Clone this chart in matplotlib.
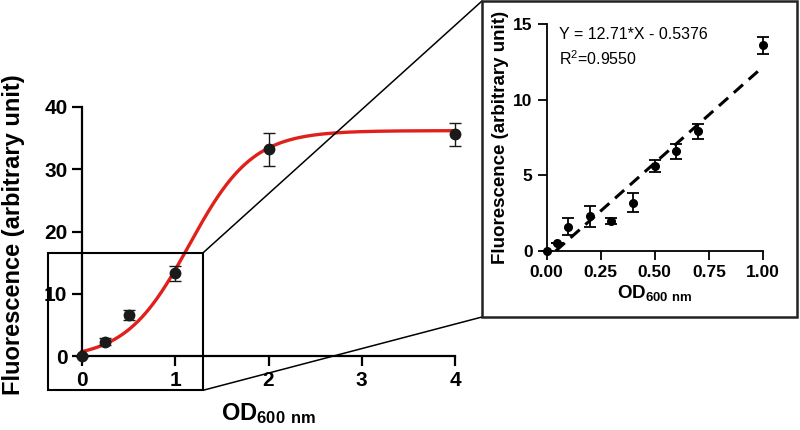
import numpy as np
import matplotlib
matplotlib.use('Agg')
from matplotlib import pyplot as plt
from matplotlib.patches import Rectangle, ConnectionPatch

plt.rcParams['font.family'] = ['Liberation Sans', 'DejaVu Sans']
plt.rcParams['font.weight'] = 'bold'
plt.rcParams['mathtext.default'] = 'regular'

# main panel data (OD600 vs fluorescence)
od_main = [0, 0.25, 0.5, 1, 2, 4]
fl_main = [0, 2.3, 6.6, 13.3, 33.2, 35.6]
err_main = [0.1, 0.6, 0.8, 1.2, 2.6, 1.9]

# sigmoid (Boltzmann) fit parameters
fit_bottom = -0.5
fit_top = 36.2
fit_v50 = 1.15
fit_slope = 0.34

# inset data (linear range)
od_inset = [0, 0.05, 0.1, 0.2, 0.3, 0.4, 0.5, 0.6, 0.7, 1.0]
fl_inset = [0, 0.55, 1.6, 2.3, 2.0, 3.2, 5.6, 6.6, 7.9, 13.6]
err_inset = [0.0, 0.0, 0.55, 0.7, 0.2, 0.6, 0.4, 0.5, 0.5, 0.55]
slope = 12.71
intercept = -0.5376
r2 = 0.9550

fig = plt.figure(figsize=(8, 4.3), dpi=100)

# ---- main plot ----
ax = fig.add_axes([82 / 800, 74 / 430, 373 / 800, 249 / 430])
xs = np.linspace(0, 4, 400)
ys = fit_bottom + (fit_top - fit_bottom) / (1 + np.exp((fit_v50 - xs) / fit_slope))
ax.plot(xs, ys, color='#e0201b', lw=2.4, zorder=2, clip_on=False)
ax.errorbar(od_main, fl_main, yerr=err_main, fmt='o', color='#1a1a1a', ms=7.5,
            elinewidth=1, capsize=4, capthick=1, zorder=3, clip_on=False)
ax.set_xlim(0, 4)
ax.set_ylim(0, 40)
ax.set_xticks([0, 1, 2, 3, 4])
ax.set_yticks([0, 10, 20, 30, 40])
for s in ['top', 'right']:
    ax.spines[s].set_visible(False)
for s in ['left', 'bottom']:
    ax.spines[s].set_linewidth(1.6)
ax.tick_params(width=1.6, length=7, labelsize=15)
ax.set_xlabel('OD$_{600\\ nm}$', fontsize=17, fontweight='bold', labelpad=8)
ax.set_ylabel('Fluorescence (arbitrary unit)', fontsize=17, fontweight='bold')
ax.yaxis.set_label_coords(-0.152, 0.486)

# zoom box on main plot
box_x0, box_x1 = -0.36, 1.30
box_y0, box_y1 = -5.5, 16.6
ax.add_patch(Rectangle((box_x0, box_y0), box_x1 - box_x0, box_y1 - box_y0,
                       fill=False, ec='black', lw=1.5, clip_on=False, zorder=4))

# ---- inset ----
ax2 = fig.add_axes([546.5 / 800, 179 / 430, 216.5 / 800, 227 / 430])
lx = np.array([-intercept / slope, 1.0])
ax2.plot(lx, slope * lx + intercept, '--', color='black', lw=2.2, dashes=(4, 2.5))
ax2.errorbar(od_inset, fl_inset, yerr=err_inset, fmt='o', color='black', ms=5.5,
             elinewidth=1.3, capsize=4, capthick=1.3, zorder=3, clip_on=False)
ax2.set_xlim(0, 1)
ax2.set_ylim(0, 15)
ax2.set_xticks([0, 0.25, 0.5, 0.75, 1.0])
ax2.set_xticklabels(['0.00', '0.25', '0.50', '0.75', '1.00'])
ax2.set_yticks([0, 5, 10, 15])
for s in ['top', 'right']:
    ax2.spines[s].set_visible(False)
for s in ['left', 'bottom']:
    ax2.spines[s].set_linewidth(1.3)
ax2.tick_params(width=1.3, length=6.5, labelsize=12.5)
ax2.set_xlabel('OD$_{600\\ nm}$', fontsize=13.5, fontweight='bold', labelpad=2)
ax2.set_ylabel('Fluorescence (arbitrary unit)', fontsize=13.5, fontweight='bold', labelpad=3)
ax2.text(0.06, 14.3, 'Y = %.2f*X - %.4f' % (slope, -intercept), fontsize=11.5,
         fontweight='normal', va='center')
ax2.text(0.06, 12.7, 'R$^2$=%.4f' % r2, fontsize=11.5, fontweight='normal', va='center')

# inset frame and connector lines
frame = Rectangle((482 / 800, 113 / 430), 315 / 800, 316 / 430, transform=fig.transFigure,
                  fill=False, ec='#222222', lw=1.8)
fig.patches.append(frame)
for ya, yb in [(box_y1, 429 / 430), (box_y0, 113 / 430)]:
    con = ConnectionPatch(xyA=(box_x1, ya), coordsA=ax.transData,
                          xyB=(482 / 800, yb), coordsB=fig.transFigure,
                          color='black', lw=1.1)
    fig.add_artist(con)

fig.savefig('out.png', dpi=100)
